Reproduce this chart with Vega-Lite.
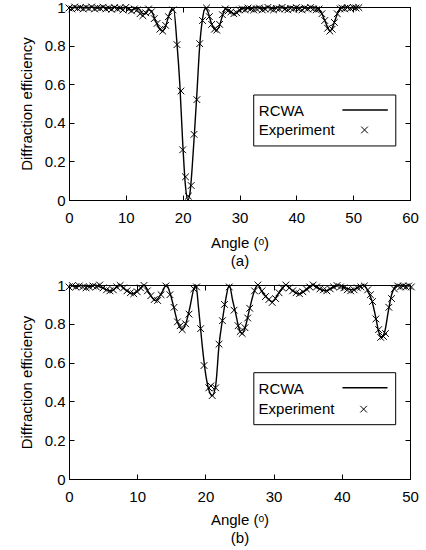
{
  "$schema": "https://vega.github.io/schema/vega-lite/v6.json",
  "padding": {"left": 18, "top": -1, "right": 0, "bottom": 0},
  "background": "white",
  "config": {
    "font": "Liberation Sans",
    "view": {"stroke": "black", "strokeWidth": 1},
    "concat": {"spacing": 8},
    "style": {"guide-title": {"fontWeight": "normal"}},
    "axis": {
      "grid": false,
      "domainColor": "black",
      "tickColor": "black",
      "tickSize": -5,
      "labelColor": "black",
      "titleColor": "black",
      "labelFontSize": 15,
      "titleFontSize": 15,
      "titleFontWeight": "normal",
      "labelFlush": false,
      "labelOverlap": false
    }
  },
  "datasets": {
    "a_rcwa": [
      {"angle":0,"eff":1.0},{"angle":1,"eff":0.997},{"angle":2,"eff":1.0},{"angle":3,"eff":0.996},{"angle":4,"eff":1.0},{"angle":5,"eff":0.995},{"angle":6,"eff":1.0},{"angle":7,"eff":0.994},{"angle":8,"eff":1.0},{"angle":9,"eff":0.992},{"angle":10,"eff":1.0},{"angle":11,"eff":0.985},{"angle":12,"eff":0.995},{"angle":12.5,"eff":0.985},{"angle":13,"eff":0.965},{"angle":13.5,"eff":0.965},{"angle":14,"eff":0.985},{"angle":14.5,"eff":0.98},{"angle":15,"eff":0.945},{"angle":15.5,"eff":0.91},{"angle":16,"eff":0.885},{"angle":16.4,"eff":0.875},{"angle":17,"eff":0.9},{"angle":17.5,"eff":0.95},{"angle":18,"eff":0.985},{"angle":18.4,"eff":0.99},{"angle":19,"eff":0.81},{"angle":19.5,"eff":0.6},{"angle":20,"eff":0.3},{"angle":20.5,"eff":0.07},{"angle":20.9,"eff":0.0},{"angle":21.3,"eff":0.04},{"angle":21.7,"eff":0.18},{"angle":22.1,"eff":0.36},{"angle":22.5,"eff":0.55},{"angle":23,"eff":0.8},{"angle":23.5,"eff":0.94},{"angle":24,"eff":0.995},{"angle":24.5,"eff":0.97},{"angle":25,"eff":0.92},{"angle":25.5,"eff":0.89},{"angle":25.9,"eff":0.88},{"angle":26.5,"eff":0.905},{"angle":27,"eff":0.955},{"angle":27.5,"eff":0.99},{"angle":28,"eff":0.985},{"angle":28.5,"eff":0.972},{"angle":29.2,"eff":0.965},{"angle":30,"eff":0.985},{"angle":31,"eff":0.995},{"angle":32,"eff":0.99},{"angle":33,"eff":1.0},{"angle":34,"eff":0.99},{"angle":35,"eff":1.0},{"angle":36,"eff":0.992},{"angle":37,"eff":1.0},{"angle":38,"eff":0.993},{"angle":39,"eff":1.0},{"angle":40,"eff":0.994},{"angle":41,"eff":1.0},{"angle":42,"eff":0.995},{"angle":43,"eff":1.0},{"angle":43.5,"eff":0.995},{"angle":44,"eff":0.985},{"angle":44.5,"eff":0.965},{"angle":45,"eff":0.93},{"angle":45.5,"eff":0.895},{"angle":45.9,"eff":0.875},{"angle":46.3,"eff":0.89},{"angle":46.8,"eff":0.93},{"angle":47.3,"eff":0.97},{"angle":47.8,"eff":0.995},{"angle":48.5,"eff":1.0},{"angle":49.5,"eff":0.996},{"angle":50.5,"eff":1.0},{"angle":51,"eff":0.998}
    ],
    "a_exp": [
      {"angle":0,"eff":0.995},{"angle":0.5,"eff":0.99},{"angle":1,"eff":1.0},{"angle":1.5,"eff":0.993},{"angle":2,"eff":0.997},{"angle":2.5,"eff":0.99},{"angle":3,"eff":0.998},{"angle":3.5,"eff":0.992},{"angle":4,"eff":1.0},{"angle":4.5,"eff":0.99},{"angle":5,"eff":0.996},{"angle":5.5,"eff":0.993},{"angle":6,"eff":0.999},{"angle":6.5,"eff":0.99},{"angle":7,"eff":0.995},{"angle":7.5,"eff":0.988},{"angle":8,"eff":0.997},{"angle":8.5,"eff":0.99},{"angle":9,"eff":0.995},{"angle":9.5,"eff":0.985},{"angle":10,"eff":0.998},{"angle":10.5,"eff":0.988},{"angle":11,"eff":0.98},{"angle":11.5,"eff":0.99},{"angle":12,"eff":0.985},{"angle":12.5,"eff":0.965},{"angle":13,"eff":0.955},{"angle":13.5,"eff":0.97},{"angle":14,"eff":0.99},{"angle":14.5,"eff":0.975},{"angle":15,"eff":0.94},{"angle":15.5,"eff":0.915},{"angle":16,"eff":0.885},{"angle":16.5,"eff":0.875},{"angle":17,"eff":0.905},{"angle":17.5,"eff":0.95},{"angle":18.3,"eff":0.985},{"angle":19.0,"eff":0.805},{"angle":19.7,"eff":0.565},{"angle":20.0,"eff":0.26},{"angle":20.5,"eff":0.12},{"angle":21.0,"eff":0.02},{"angle":21.5,"eff":0.075},{"angle":22.0,"eff":0.34},{"angle":22.5,"eff":0.52},{"angle":23.0,"eff":0.81},{"angle":23.5,"eff":0.93},{"angle":24.2,"eff":0.995},{"angle":24.7,"eff":0.95},{"angle":25.1,"eff":0.91},{"angle":25.6,"eff":0.885},{"angle":26.0,"eff":0.88},{"angle":26.5,"eff":0.91},{"angle":27,"eff":0.96},{"angle":27.5,"eff":0.99},{"angle":28,"eff":0.98},{"angle":28.5,"eff":0.975},{"angle":29,"eff":0.965},{"angle":29.5,"eff":0.97},{"angle":30,"eff":0.985},{"angle":30.5,"eff":0.99},{"angle":31,"eff":0.985},{"angle":31.5,"eff":0.995},{"angle":32,"eff":0.99},{"angle":32.5,"eff":0.985},{"angle":33,"eff":0.99},{"angle":33.5,"eff":0.995},{"angle":34,"eff":0.985},{"angle":34.5,"eff":0.99},{"angle":35,"eff":0.998},{"angle":35.5,"eff":0.99},{"angle":36,"eff":0.985},{"angle":36.5,"eff":0.993},{"angle":37,"eff":0.99},{"angle":37.5,"eff":0.998},{"angle":38,"eff":0.99},{"angle":38.5,"eff":0.985},{"angle":39,"eff":0.993},{"angle":39.5,"eff":0.99},{"angle":40,"eff":0.997},{"angle":40.5,"eff":0.99},{"angle":41,"eff":0.985},{"angle":41.5,"eff":0.995},{"angle":42,"eff":0.99},{"angle":42.5,"eff":0.997},{"angle":43,"eff":0.99},{"angle":43.5,"eff":0.985},{"angle":44,"eff":0.99},{"angle":44.5,"eff":0.965},{"angle":45,"eff":0.93},{"angle":45.5,"eff":0.89},{"angle":45.9,"eff":0.875},{"angle":46.3,"eff":0.885},{"angle":46.7,"eff":0.92},{"angle":47.2,"eff":0.965},{"angle":47.7,"eff":0.99},{"angle":48,"eff":0.995},{"angle":48.5,"eff":0.99},{"angle":49,"eff":0.997},{"angle":49.5,"eff":0.993},{"angle":50,"eff":0.998},{"angle":50.5,"eff":0.995},{"angle":51,"eff":0.997}
    ],
    "b_rcwa": [
      {"angle":0,"eff":1.0},{"angle":1,"eff":0.993},{"angle":2,"eff":0.998},{"angle":3,"eff":0.99},{"angle":3.8,"eff":1.0},{"angle":4.8,"eff":0.985},{"angle":5.2,"eff":0.98},{"angle":6.2,"eff":0.97},{"angle":7.4,"eff":1.0},{"angle":8.3,"eff":0.975},{"angle":9.3,"eff":0.955},{"angle":10.3,"eff":0.975},{"angle":11.0,"eff":1.0},{"angle":11.7,"eff":0.96},{"angle":12.7,"eff":0.92},{"angle":13.6,"eff":0.96},{"angle":14.3,"eff":1.0},{"angle":14.8,"eff":0.96},{"angle":15.4,"eff":0.88},{"angle":15.9,"eff":0.81},{"angle":16.6,"eff":0.77},{"angle":17.2,"eff":0.81},{"angle":17.7,"eff":0.88},{"angle":18.3,"eff":0.98},{"angle":18.6,"eff":1.0},{"angle":19.0,"eff":0.88},{"angle":19.5,"eff":0.7},{"angle":20.0,"eff":0.55},{"angle":20.5,"eff":0.46},{"angle":21.0,"eff":0.43},{"angle":21.5,"eff":0.48},{"angle":22.0,"eff":0.69},{"angle":22.5,"eff":0.82},{"angle":23.0,"eff":0.93},{"angle":23.5,"eff":1.0},{"angle":24.0,"eff":0.92},{"angle":24.4,"eff":0.86},{"angle":24.9,"eff":0.78},{"angle":25.4,"eff":0.75},{"angle":25.9,"eff":0.79},{"angle":26.5,"eff":0.88},{"angle":27.1,"eff":0.96},{"angle":27.7,"eff":1.0},{"angle":28.2,"eff":0.97},{"angle":28.9,"eff":0.94},{"angle":29.8,"eff":0.915},{"angle":30.8,"eff":0.96},{"angle":31.8,"eff":1.0},{"angle":32.8,"eff":0.97},{"angle":33.8,"eff":0.955},{"angle":34.8,"eff":0.975},{"angle":35.7,"eff":1.0},{"angle":36.7,"eff":0.98},{"angle":37.6,"eff":0.97},{"angle":38.6,"eff":0.985},{"angle":39.6,"eff":1.0},{"angle":40.6,"eff":0.985},{"angle":41.6,"eff":0.975},{"angle":42.5,"eff":0.99},{"angle":43.2,"eff":1.0},{"angle":43.8,"eff":0.97},{"angle":44.4,"eff":0.92},{"angle":45.0,"eff":0.83},{"angle":45.4,"eff":0.76},{"angle":45.8,"eff":0.73},{"angle":46.3,"eff":0.76},{"angle":46.8,"eff":0.86},{"angle":47.3,"eff":0.95},{"angle":47.8,"eff":0.99},{"angle":48.3,"eff":1.0},{"angle":49,"eff":0.995},{"angle":50,"eff":1.0}
    ],
    "b_exp": [
      {"angle":0,"eff":0.99},{"angle":0.5,"eff":0.997},{"angle":1,"eff":0.99},{"angle":1.5,"eff":0.995},{"angle":2,"eff":0.99},{"angle":2.5,"eff":0.985},{"angle":3,"eff":0.99},{"angle":3.5,"eff":0.995},{"angle":4,"eff":0.99},{"angle":4.5,"eff":1.0},{"angle":5,"eff":0.985},{"angle":5.5,"eff":0.975},{"angle":6,"eff":0.97},{"angle":6.5,"eff":0.975},{"angle":7,"eff":0.99},{"angle":7.5,"eff":0.998},{"angle":8,"eff":0.985},{"angle":8.5,"eff":0.97},{"angle":9,"eff":0.96},{"angle":9.5,"eff":0.955},{"angle":10,"eff":0.965},{"angle":10.5,"eff":0.985},{"angle":11,"eff":0.998},{"angle":11.5,"eff":0.97},{"angle":12,"eff":0.945},{"angle":12.5,"eff":0.925},{"angle":13,"eff":0.92},{"angle":13.5,"eff":0.95},{"angle":14.2,"eff":0.995},{"angle":14.8,"eff":0.95},{"angle":15.4,"eff":0.885},{"angle":15.9,"eff":0.81},{"angle":16.3,"eff":0.79},{"angle":16.6,"eff":0.77},{"angle":17.1,"eff":0.8},{"angle":17.6,"eff":0.85},{"angle":18.3,"eff":0.98},{"angle":18.7,"eff":0.99},{"angle":19.3,"eff":0.775},{"angle":19.8,"eff":0.585},{"angle":20.5,"eff":0.47},{"angle":20.8,"eff":0.48},{"angle":21.0,"eff":0.43},{"angle":21.5,"eff":0.47},{"angle":22.0,"eff":0.695},{"angle":22.5,"eff":0.816},{"angle":22.8,"eff":0.9},{"angle":23.5,"eff":0.99},{"angle":24.2,"eff":0.87},{"angle":24.8,"eff":0.79},{"angle":25.1,"eff":0.76},{"angle":25.4,"eff":0.75},{"angle":25.8,"eff":0.78},{"angle":26.2,"eff":0.83},{"angle":26.5,"eff":0.88},{"angle":27.2,"eff":0.97},{"angle":27.7,"eff":1.0},{"angle":28.3,"eff":0.97},{"angle":28.8,"eff":0.94},{"angle":29.3,"eff":0.925},{"angle":29.8,"eff":0.91},{"angle":30.3,"eff":0.93},{"angle":30.8,"eff":0.96},{"angle":31.3,"eff":0.985},{"angle":31.8,"eff":1.0},{"angle":32.3,"eff":0.985},{"angle":32.8,"eff":0.97},{"angle":33.3,"eff":0.96},{"angle":33.8,"eff":0.955},{"angle":34.3,"eff":0.965},{"angle":34.8,"eff":0.98},{"angle":35.3,"eff":0.99},{"angle":35.8,"eff":1.0},{"angle":36.3,"eff":0.99},{"angle":36.8,"eff":0.98},{"angle":37.3,"eff":0.975},{"angle":37.8,"eff":0.97},{"angle":38.3,"eff":0.98},{"angle":38.8,"eff":0.99},{"angle":39.3,"eff":0.997},{"angle":39.8,"eff":0.99},{"angle":40.3,"eff":0.985},{"angle":40.8,"eff":0.975},{"angle":41.3,"eff":0.97},{"angle":41.8,"eff":0.975},{"angle":42.3,"eff":0.985},{"angle":42.8,"eff":0.99},{"angle":43.3,"eff":0.995},{"angle":43.8,"eff":0.975},{"angle":44.2,"eff":0.95},{"angle":44.5,"eff":0.915},{"angle":45.0,"eff":0.825},{"angle":45.4,"eff":0.77},{"angle":45.7,"eff":0.73},{"angle":46.1,"eff":0.735},{"angle":46.4,"eff":0.75},{"angle":46.9,"eff":0.885},{"angle":47.3,"eff":0.93},{"angle":47.7,"eff":0.98},{"angle":48.2,"eff":0.995},{"angle":48.6,"eff":0.99},{"angle":49,"eff":0.995},{"angle":49.4,"eff":0.99},{"angle":49.8,"eff":0.995},{"angle":50.2,"eff":0.99}
    ]
  },
  "vconcat": [
    {
      "width": 341,
      "height": 193,
      "layer": [
        {
          "data": {"name": "a_rcwa"},
          "mark": {"type": "line", "color": "black", "strokeWidth": 1.4, "interpolate": "monotone", "clip": false},
          "encoding": {
            "x": {"field": "angle", "type": "quantitative", "scale": {"domain": [0, 60], "nice": false},
                  "axis": {"orient": "bottom", "values": [0,10,20,30,40,50,60], "labelPadding": 15, "title": ["Angle (ᵒ)", "(a)"], "titleFontWeight": "normal", "titlePadding": 10, "titleLineHeight": 18}},
            "y": {"field": "eff", "type": "quantitative", "scale": {"domain": [0, 1], "nice": false, "zero": false},
                  "axis": {"orient": "left", "values": [0,0.2,0.4,0.6,0.8,1], "format": "~g", "labelPadding": 9, "title": "Diffraction efficiency", "titleFontWeight": "normal", "titlePadding": 10}}
          }
        },
        {
          "data": {"name": "a_exp"},
          "mark": {"type": "point", "shape": "M-1,-1L1,1M-1,1L1,-1", "filled": false, "color": "black", "strokeWidth": 1, "size": 45, "opacity": 1, "clip": false},
          "encoding": {
            "x": {"field": "angle", "type": "quantitative", "axis": {"orient": "top", "values": [0,10,20,30,40,50,60], "labels": false, "title": null}},
            "y": {"field": "eff", "type": "quantitative", "axis": {"orient": "right", "values": [0,0.2,0.4,0.6,0.8,1], "labels": false, "title": null}}
          }
        },
        {
          "data": {"values": [{}]},
          "mark": {"type": "rect", "fill": "white", "stroke": "black", "strokeWidth": 1},
          "encoding": {
            "x": {"datum": 32.5, "type": "quantitative", "axis": null},
            "x2": {"datum": 57.5},
            "y": {"datum": 0.544, "type": "quantitative", "axis": null},
            "y2": {"datum": 0.28}
          }
        },
        {
          "data": {"values": [{}]},
          "mark": {"type": "text", "text": "RCWA", "align": "left", "baseline": "middle", "fontSize": 15, "color": "black"},
          "encoding": {
            "x": {"datum": 33.4, "type": "quantitative", "axis": null},
            "y": {"datum": 0.46, "type": "quantitative", "axis": null}
          }
        },
        {
          "data": {"values": [{}]},
          "mark": {"type": "text", "text": "Experiment", "align": "left", "baseline": "middle", "fontSize": 15, "color": "black"},
          "encoding": {
            "x": {"datum": 33.4, "type": "quantitative", "axis": null},
            "y": {"datum": 0.363, "type": "quantitative", "axis": null}
          }
        },
        {
          "data": {"values": [{}]},
          "mark": {"type": "rule", "color": "black", "strokeWidth": 1.4},
          "encoding": {
            "x": {"datum": 48.1, "type": "quantitative", "axis": null},
            "x2": {"datum": 56.1},
            "y": {"datum": 0.466, "type": "quantitative", "axis": null}
          }
        },
        {
          "data": {"values": [{}]},
          "mark": {"type": "point", "shape": "M-1,-1L1,1M-1,1L1,-1", "filled": false, "color": "black", "strokeWidth": 1, "size": 45, "opacity": 1},
          "encoding": {
            "x": {"datum": 52.0, "type": "quantitative", "axis": null},
            "y": {"datum": 0.363, "type": "quantitative", "axis": null}
          }
        }
      ],
      "resolve": {"axis": {"x": "independent", "y": "independent"}}
    },
    {
      "width": 341,
      "height": 194,
      "layer": [
        {
          "data": {"name": "b_rcwa"},
          "mark": {"type": "line", "color": "black", "strokeWidth": 1.4, "interpolate": "monotone", "clip": false},
          "encoding": {
            "x": {"field": "angle", "type": "quantitative", "scale": {"domain": [0, 50], "nice": false},
                  "axis": {"orient": "bottom", "values": [0,10,20,30,40,50], "labelPadding": 15, "title": ["Angle (ᵒ)", "(b)"], "titleFontWeight": "normal", "titlePadding": 8, "titleLineHeight": 18}},
            "y": {"field": "eff", "type": "quantitative", "scale": {"domain": [0, 1], "nice": false, "zero": false},
                  "axis": {"orient": "left", "values": [0,0.2,0.4,0.6,0.8,1], "format": "~g", "labelPadding": 9, "title": "Diffraction efficiency", "titleFontWeight": "normal", "titlePadding": 10}}
          }
        },
        {
          "data": {"name": "b_exp"},
          "mark": {"type": "point", "shape": "M-1,-1L1,1M-1,1L1,-1", "filled": false, "color": "black", "strokeWidth": 1, "size": 45, "opacity": 1, "clip": false},
          "encoding": {
            "x": {"field": "angle", "type": "quantitative", "axis": {"orient": "top", "values": [0,10,20,30,40,50], "labels": false, "title": null}},
            "y": {"field": "eff", "type": "quantitative", "axis": {"orient": "right", "values": [0,0.2,0.4,0.6,0.8,1], "labels": false, "title": null}}
          }
        },
        {
          "data": {"values": [{}]},
          "mark": {"type": "rect", "fill": "white", "stroke": "black", "strokeWidth": 1},
          "encoding": {
            "x": {"datum": 27.1, "type": "quantitative", "axis": null},
            "x2": {"datum": 47.9},
            "y": {"datum": 0.548, "type": "quantitative", "axis": null},
            "y2": {"datum": 0.28}
          }
        },
        {
          "data": {"values": [{}]},
          "mark": {"type": "text", "text": "RCWA", "align": "left", "baseline": "middle", "fontSize": 15, "color": "black"},
          "encoding": {
            "x": {"datum": 27.8, "type": "quantitative", "axis": null},
            "y": {"datum": 0.464, "type": "quantitative", "axis": null}
          }
        },
        {
          "data": {"values": [{}]},
          "mark": {"type": "text", "text": "Experiment", "align": "left", "baseline": "middle", "fontSize": 15, "color": "black"},
          "encoding": {
            "x": {"datum": 27.8, "type": "quantitative", "axis": null},
            "y": {"datum": 0.36, "type": "quantitative", "axis": null}
          }
        },
        {
          "data": {"values": [{}]},
          "mark": {"type": "rule", "color": "black", "strokeWidth": 1.4},
          "encoding": {
            "x": {"datum": 40.1, "type": "quantitative", "axis": null},
            "x2": {"datum": 46.7},
            "y": {"datum": 0.47, "type": "quantitative", "axis": null}
          }
        },
        {
          "data": {"values": [{}]},
          "mark": {"type": "point", "shape": "M-1,-1L1,1M-1,1L1,-1", "filled": false, "color": "black", "strokeWidth": 1, "size": 45, "opacity": 1},
          "encoding": {
            "x": {"datum": 43.2, "type": "quantitative", "axis": null},
            "y": {"datum": 0.36, "type": "quantitative", "axis": null}
          }
        }
      ],
      "resolve": {"axis": {"x": "independent", "y": "independent"}}
    }
  ]
}
